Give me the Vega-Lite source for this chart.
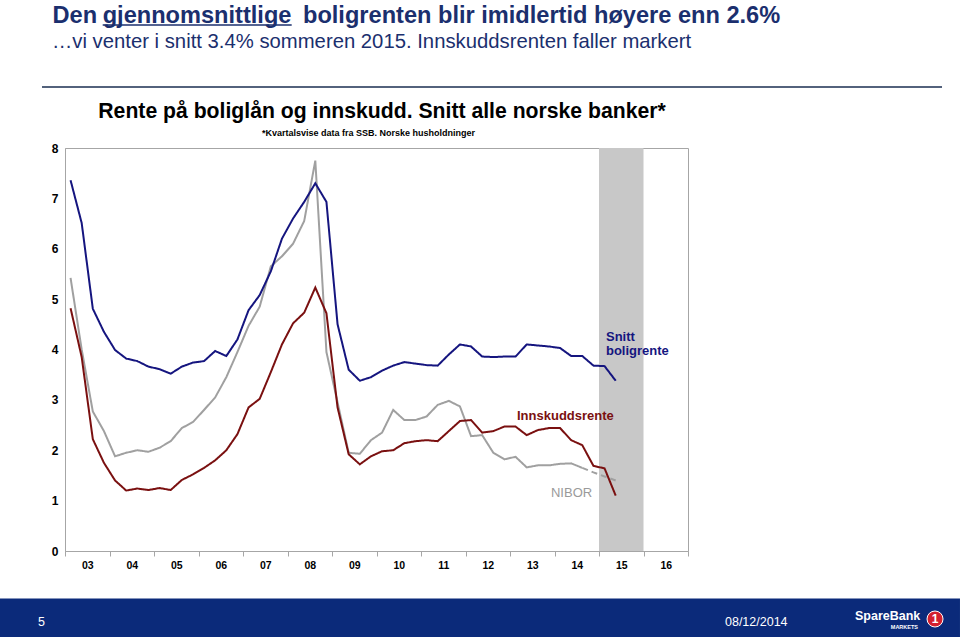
{
  "$schema": "https://vega.github.io/schema/vega-lite/v6.json",
  "width": 623,
  "height": 403,
  "autosize": {"type": "none"},
  "padding": {"left": 65, "top": 148, "right": 272, "bottom": 89},
  "background": "white",
  "config": {
    "view": {"stroke": "#a6a6a6", "strokeWidth": 1},
    "font": "Liberation Sans",
    "text": {"font": "Liberation Sans"}
  },
  "datasets": {
    "series": [
      {"s":"nibor","t":2003.125,"v":5.42},{"s":"nibor","t":2003.375,"v":4.0},{"s":"nibor","t":2003.625,"v":2.77},{"s":"nibor","t":2003.875,"v":2.38},
      {"s":"nibor","t":2004.125,"v":1.88},{"s":"nibor","t":2004.375,"v":1.95},{"s":"nibor","t":2004.625,"v":2.0},{"s":"nibor","t":2004.875,"v":1.97},
      {"s":"nibor","t":2005.125,"v":2.05},{"s":"nibor","t":2005.375,"v":2.18},{"s":"nibor","t":2005.625,"v":2.44},{"s":"nibor","t":2005.875,"v":2.56},
      {"s":"nibor","t":2006.125,"v":2.8},{"s":"nibor","t":2006.375,"v":3.05},{"s":"nibor","t":2006.625,"v":3.45},{"s":"nibor","t":2006.875,"v":3.95},
      {"s":"nibor","t":2007.125,"v":4.47},{"s":"nibor","t":2007.375,"v":4.85},{"s":"nibor","t":2007.625,"v":5.65},{"s":"nibor","t":2007.875,"v":5.85},
      {"s":"nibor","t":2008.125,"v":6.1},{"s":"nibor","t":2008.375,"v":6.55},{"s":"nibor","t":2008.625,"v":7.75},{"s":"nibor","t":2008.875,"v":3.95},
      {"s":"nibor","t":2009.125,"v":2.95},{"s":"nibor","t":2009.375,"v":1.95},{"s":"nibor","t":2009.625,"v":1.93},{"s":"nibor","t":2009.875,"v":2.2},
      {"s":"nibor","t":2010.125,"v":2.35},{"s":"nibor","t":2010.375,"v":2.8},{"s":"nibor","t":2010.625,"v":2.6},{"s":"nibor","t":2010.875,"v":2.6},
      {"s":"nibor","t":2011.125,"v":2.67},{"s":"nibor","t":2011.375,"v":2.9},{"s":"nibor","t":2011.625,"v":2.98},{"s":"nibor","t":2011.875,"v":2.87},
      {"s":"nibor","t":2012.125,"v":2.28},{"s":"nibor","t":2012.375,"v":2.3},{"s":"nibor","t":2012.625,"v":1.95},{"s":"nibor","t":2012.875,"v":1.82},
      {"s":"nibor","t":2013.125,"v":1.87},{"s":"nibor","t":2013.375,"v":1.66},{"s":"nibor","t":2013.625,"v":1.7},{"s":"nibor","t":2013.875,"v":1.7},
      {"s":"nibor","t":2014.125,"v":1.73},{"s":"nibor","t":2014.375,"v":1.74},{"s":"nibor","t":2014.625,"v":1.65},
      {"s":"nibor_prognose","t":2014.625,"v":1.65},{"s":"nibor_prognose","t":2014.875,"v":1.56},{"s":"nibor_prognose","t":2015.125,"v":1.48},{"s":"nibor_prognose","t":2015.375,"v":1.4},
      {"s":"innskudd","t":2003.125,"v":4.82},{"s":"innskudd","t":2003.375,"v":3.85},{"s":"innskudd","t":2003.625,"v":2.22},{"s":"innskudd","t":2003.875,"v":1.75},
      {"s":"innskudd","t":2004.125,"v":1.4},{"s":"innskudd","t":2004.375,"v":1.2},{"s":"innskudd","t":2004.625,"v":1.24},{"s":"innskudd","t":2004.875,"v":1.21},
      {"s":"innskudd","t":2005.125,"v":1.25},{"s":"innskudd","t":2005.375,"v":1.21},{"s":"innskudd","t":2005.625,"v":1.41},{"s":"innskudd","t":2005.875,"v":1.52},
      {"s":"innskudd","t":2006.125,"v":1.65},{"s":"innskudd","t":2006.375,"v":1.8},{"s":"innskudd","t":2006.625,"v":2.0},{"s":"innskudd","t":2006.875,"v":2.32},
      {"s":"innskudd","t":2007.125,"v":2.85},{"s":"innskudd","t":2007.375,"v":3.02},{"s":"innskudd","t":2007.625,"v":3.55},{"s":"innskudd","t":2007.875,"v":4.1},
      {"s":"innskudd","t":2008.125,"v":4.52},{"s":"innskudd","t":2008.375,"v":4.73},{"s":"innskudd","t":2008.625,"v":5.23},{"s":"innskudd","t":2008.875,"v":4.72},
      {"s":"innskudd","t":2009.125,"v":2.85},{"s":"innskudd","t":2009.375,"v":1.92},{"s":"innskudd","t":2009.625,"v":1.72},{"s":"innskudd","t":2009.875,"v":1.88},
      {"s":"innskudd","t":2010.125,"v":1.98},{"s":"innskudd","t":2010.375,"v":2.0},{"s":"innskudd","t":2010.625,"v":2.14},{"s":"innskudd","t":2010.875,"v":2.18},
      {"s":"innskudd","t":2011.125,"v":2.2},{"s":"innskudd","t":2011.375,"v":2.18},{"s":"innskudd","t":2011.625,"v":2.38},{"s":"innskudd","t":2011.875,"v":2.58},
      {"s":"innskudd","t":2012.125,"v":2.6},{"s":"innskudd","t":2012.375,"v":2.35},{"s":"innskudd","t":2012.625,"v":2.38},{"s":"innskudd","t":2012.875,"v":2.47},
      {"s":"innskudd","t":2013.125,"v":2.47},{"s":"innskudd","t":2013.375,"v":2.3},{"s":"innskudd","t":2013.625,"v":2.4},{"s":"innskudd","t":2013.875,"v":2.44},
      {"s":"innskudd","t":2014.125,"v":2.44},{"s":"innskudd","t":2014.375,"v":2.2},{"s":"innskudd","t":2014.625,"v":2.1},{"s":"innskudd","t":2014.875,"v":1.69},
      {"s":"innskudd","t":2015.125,"v":1.64},{"s":"innskudd","t":2015.375,"v":1.1},
      {"s":"bolig","t":2003.125,"v":7.36},{"s":"bolig","t":2003.375,"v":6.51},{"s":"bolig","t":2003.625,"v":4.81},{"s":"bolig","t":2003.875,"v":4.35},
      {"s":"bolig","t":2004.125,"v":3.99},{"s":"bolig","t":2004.375,"v":3.82},{"s":"bolig","t":2004.625,"v":3.77},{"s":"bolig","t":2004.875,"v":3.66},
      {"s":"bolig","t":2005.125,"v":3.61},{"s":"bolig","t":2005.375,"v":3.52},{"s":"bolig","t":2005.625,"v":3.66},{"s":"bolig","t":2005.875,"v":3.74},
      {"s":"bolig","t":2006.125,"v":3.77},{"s":"bolig","t":2006.375,"v":3.97},{"s":"bolig","t":2006.625,"v":3.87},{"s":"bolig","t":2006.875,"v":4.2},
      {"s":"bolig","t":2007.125,"v":4.78},{"s":"bolig","t":2007.375,"v":5.08},{"s":"bolig","t":2007.625,"v":5.55},{"s":"bolig","t":2007.875,"v":6.2},
      {"s":"bolig","t":2008.125,"v":6.6},{"s":"bolig","t":2008.375,"v":6.93},{"s":"bolig","t":2008.625,"v":7.3},{"s":"bolig","t":2008.875,"v":6.93},
      {"s":"bolig","t":2009.125,"v":4.5},{"s":"bolig","t":2009.375,"v":3.6},{"s":"bolig","t":2009.625,"v":3.38},{"s":"bolig","t":2009.875,"v":3.45},
      {"s":"bolig","t":2010.125,"v":3.58},{"s":"bolig","t":2010.375,"v":3.68},{"s":"bolig","t":2010.625,"v":3.75},{"s":"bolig","t":2010.875,"v":3.72},
      {"s":"bolig","t":2011.125,"v":3.69},{"s":"bolig","t":2011.375,"v":3.68},{"s":"bolig","t":2011.625,"v":3.9},{"s":"bolig","t":2011.875,"v":4.1},
      {"s":"bolig","t":2012.125,"v":4.06},{"s":"bolig","t":2012.375,"v":3.86},{"s":"bolig","t":2012.625,"v":3.85},{"s":"bolig","t":2012.875,"v":3.86},
      {"s":"bolig","t":2013.125,"v":3.86},{"s":"bolig","t":2013.375,"v":4.1},{"s":"bolig","t":2013.625,"v":4.08},{"s":"bolig","t":2013.875,"v":4.06},
      {"s":"bolig","t":2014.125,"v":4.03},{"s":"bolig","t":2014.375,"v":3.87},{"s":"bolig","t":2014.625,"v":3.87},{"s":"bolig","t":2014.875,"v":3.68},
      {"s":"bolig","t":2015.125,"v":3.67},{"s":"bolig","t":2015.375,"v":3.38}
    ],
    "band": [{"t": 2015, "t2": 2016, "v": 0, "v2": 8}],
    "labels": [
      {"s":"bolig","t":2015.157,"v":4.169,"label":"Snitt"},
      {"s":"bolig","t":2015.157,"v":3.891,"label":"boligrente"},
      {"s":"innskudd","t":2013.157,"v":2.6,"label":"Innskuddsrente"},
      {"s":"nibor","t":2013.921,"v":1.072,"label":"NIBOR"}
    ],
    "rules": [
      {"role":"underline","t":2003.847,"t2":2008.094,"v":10.442},
      {"role":"separator","t":2002.483,"t2":2022.708,"v":9.211}
    ],
    "footer": [{"t": 2001.539, "t2": 2023.112, "v": -0.943, "v2": -1.707}],
    "notes": [
      {"role":"title","t":2002.721,"v":10.488,"label":"Den"},
      {"role":"title","t":2003.847,"v":10.488,"label":"gjennomsnittlige"},
      {"role":"title","t":2008.348,"v":10.488,"label":"boligrenten blir imidlertid høyere enn 2.6%"},
      {"role":"sub","t":2002.708,"v":9.979,"label":"…vi venter i snitt 3.4% sommeren 2015. Innskuddsrenten faller markert"},
      {"role":"chart","t":2010.124,"v":8.596,"label":"Rente på boliglån og innskudd. Snitt alle norske banker*"},
      {"role":"note","t":2009.82,"v":8.238,"label":"*Kvartalsvise data fra SSB. Norske husholdninger"},
      {"role":"foot","t":2002.393,"v":-1.489,"label":"5"},
      {"role":"foot","t":2017.831,"v":-1.489,"label":"08/12/2014"},
      {"role":"logo","t":2020.753,"v":-1.37,"label":"SpareBank"},
      {"role":"logosmall","t":2022.169,"v":-1.55,"label":"MARKETS"},
      {"role":"one","t":2022.551,"v":-1.35,"label":"1"}
    ]
  },
  "encoding": {
    "x": {
      "field": "t", "type": "quantitative",
      "scale": {"domain": [2003, 2017], "nice": false, "zero": false},
      "axis": {
        "title": null, "grid": false,
        "values": [2003,2004,2005,2006,2007,2008,2009,2010,2011,2012,2013,2014,2015,2016,2017],
        "labelExpr": "datum.value >= 2017 ? '' : (datum.value < 2010 ? '0' : '') + (datum.value - 2000)",
        "labelOffset": 22.25, "labelFlush": false, "labelOverlap": false,
        "labelFont": "Liberation Sans", "labelFontWeight": "bold", "labelFontSize": 10.5, "labelColor": "#000000",
        "labelPadding": 4, "tickSize": 5, "tickColor": "#a6a6a6", "domainColor": "#a6a6a6"
      }
    },
    "y": {
      "field": "v", "type": "quantitative",
      "scale": {"domain": [0, 8], "nice": false, "zero": false},
      "axis": {
        "title": null, "grid": false, "values": [0,1,2,3,4,5,6,7,8],
        "ticks": false, "labelPadding": 7,
        "labelFont": "Liberation Sans", "labelFontWeight": "bold", "labelFontSize": 12, "labelColor": "#000000",
        "domainColor": "#a6a6a6"
      }
    }
  },
  "layer": [
    {
      "data": {"name": "band"},
      "mark": {"type": "rect", "color": "#c8c8c8"},
      "encoding": {"x2": {"field": "t2"}, "y2": {"field": "v2"}}
    },
    {
      "data": {"name": "series"},
      "mark": {"type": "line", "strokeWidth": 2},
      "encoding": {
        "color": {
          "field": "s", "type": "nominal", "legend": null,
          "scale": {"domain": ["nibor", "nibor_prognose", "innskudd", "bolig"], "range": ["#a0a0a0", "#a0a0a0", "#7a1010", "#15157f"]}
        },
        "strokeDash": {
          "field": "s", "type": "nominal", "legend": null,
          "scale": {"domain": ["nibor", "nibor_prognose", "innskudd", "bolig"], "range": [[1,0],[6,4],[1,0],[1,0]]}
        }
      }
    },
    {
      "data": {"name": "labels"},
      "transform": [{"filter": "datum.s != 'nibor'"}],
      "mark": {"type": "text", "align": "left", "baseline": "alphabetic", "fontWeight": "bold", "fontSize": 13},
      "encoding": {
        "text": {"field": "label"},
        "color": {"field": "s", "type": "nominal", "legend": null}
      }
    },
    {
      "data": {"name": "labels"},
      "transform": [{"filter": "datum.s == 'nibor'"}],
      "mark": {"type": "text", "align": "left", "baseline": "alphabetic", "fontSize": 13, "color": "#9a9a9a"},
      "encoding": {"text": {"field": "label"}}
    },
    {
      "data": {"name": "rules"},
      "transform": [{"filter": "datum.role == 'separator'"}],
      "mark": {"type": "rule", "color": "#53627c", "strokeWidth": 2},
      "encoding": {"x2": {"field": "t2"}}
    },
    {
      "data": {"name": "rules"},
      "transform": [{"filter": "datum.role == 'underline'"}],
      "mark": {"type": "rule", "color": "#1b2f6e", "strokeWidth": 1.5},
      "encoding": {"x2": {"field": "t2"}}
    },
    {
      "data": {"name": "notes"},
      "transform": [{"filter": "datum.role == 'title'"}],
      "mark": {"type": "text", "align": "left", "baseline": "alphabetic", "fontWeight": "bold", "fontSize": 23.6, "color": "#1b2f6e"},
      "encoding": {"text": {"field": "label"}}
    },
    {
      "data": {"name": "notes"},
      "transform": [{"filter": "datum.role == 'sub'"}],
      "mark": {"type": "text", "align": "left", "baseline": "alphabetic", "fontSize": 20.3, "color": "#1b2f6e"},
      "encoding": {"text": {"field": "label"}}
    },
    {
      "data": {"name": "notes"},
      "transform": [{"filter": "datum.role == 'chart'"}],
      "mark": {"type": "text", "align": "center", "baseline": "alphabetic", "fontWeight": "bold", "fontSize": 21.2, "color": "#000000"},
      "encoding": {"text": {"field": "label"}}
    },
    {
      "data": {"name": "notes"},
      "transform": [{"filter": "datum.role == 'note'"}],
      "mark": {"type": "text", "align": "center", "baseline": "alphabetic", "fontWeight": "bold", "fontSize": 9, "color": "#000000"},
      "encoding": {"text": {"field": "label"}}
    },
    {
      "data": {"name": "footer"},
      "mark": {"type": "rect", "color": "#0b2a7a"},
      "encoding": {"x2": {"field": "t2"}, "y2": {"field": "v2"}}
    },
    {
      "data": {"name": "notes"},
      "transform": [{"filter": "datum.role == 'foot'"}],
      "mark": {"type": "text", "align": "left", "baseline": "alphabetic", "fontSize": 12.5, "color": "#ffffff"},
      "encoding": {"text": {"field": "label"}}
    },
    {
      "data": {"name": "notes"},
      "transform": [{"filter": "datum.role == 'logo'"}],
      "mark": {"type": "text", "align": "left", "baseline": "alphabetic", "fontSize": 12.5, "fontWeight": "bold", "color": "#ffffff"},
      "encoding": {"text": {"field": "label"}}
    },
    {
      "data": {"name": "notes"},
      "transform": [{"filter": "datum.role == 'logosmall'"}],
      "mark": {"type": "text", "align": "right", "baseline": "alphabetic", "fontSize": 5.5, "fontWeight": "bold", "color": "#ffffff"},
      "encoding": {"text": {"field": "label"}}
    },
    {
      "data": {"name": "notes"},
      "transform": [{"filter": "datum.role == 'one'"}],
      "mark": {"type": "point", "shape": "circle", "filled": true, "size": 256, "color": "#d3202f", "opacity": 1, "stroke": "#ffffff", "strokeWidth": 1}
    },
    {
      "data": {"name": "notes"},
      "transform": [{"filter": "datum.role == 'one'"}],
      "mark": {"type": "text", "align": "center", "baseline": "middle", "fontSize": 12, "fontWeight": "bold", "color": "#ffffff"},
      "encoding": {"text": {"field": "label"}}
    }
  ]
}
